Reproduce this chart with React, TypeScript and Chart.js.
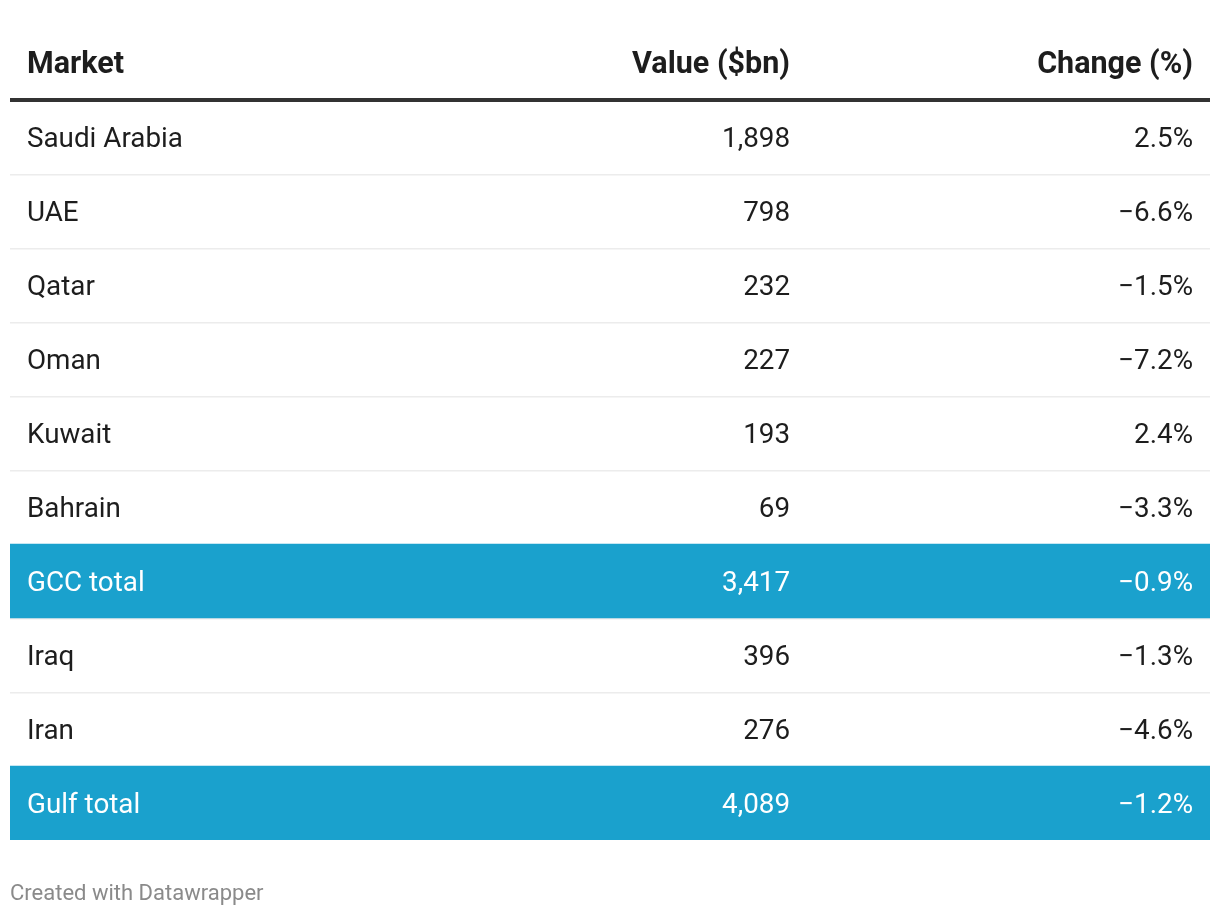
import React, { useEffect, useRef } from "react";
import { Chart, registerables } from "chart.js";

Chart.register(...registerables);

const headers = ["Market", "Value ($bn)", "Change (%)"];
const markets = ["Saudi Arabia", "UAE", "Qatar", "Oman", "Kuwait", "Bahrain", "GCC total", "Iraq", "Iran", "Gulf total"];
const values = [1898, 798, 232, 227, 193, 69, 3417, 396, 276, 4089];
const changes = [2.5, -6.6, -1.5, -7.2, 2.4, -3.3, -0.9, -1.3, -4.6, -1.2];
const highlighted = [false, false, false, false, false, false, true, false, false, true];
const footer = "Created with Datawrapper";

const W = 1220;
const H = 916;
const X_MAX = 1200;
// column anchors in x-scale units
const COL_MARKET_LEFT = 17;
const COL_VALUE_RIGHT = 780;
const COL_CHANGE_RIGHT = 1183;

const FONT = "Roboto, 'Noto Sans', sans-serif";
const TEXT = "#1d1d1d";
const BLUE = "#1aa1cd";

const fmtValue = (v: number) => v.toLocaleString("en-US");
const fmtChange = (c: number) => (c < 0 ? "\u2212" : "") + Math.abs(c).toFixed(1) + "%";

const tablePlugin = {
  id: "tablePlugin",
  beforeDatasetsDraw(chart: any) {
    const { ctx, chartArea, scales } = chart;
    const y = scales.y;
    ctx.save();
    ctx.fillStyle = "#ececec";
    for (let i = 0; i < markets.length - 1; i++) {
      const c = y.getPixelForValue(i);
      const n = y.getPixelForValue(i + 1);
      const b = Math.round((c + n) / 2);
      ctx.fillRect(chartArea.left, b, chartArea.right - chartArea.left, 1.5);
    }
    ctx.restore();
  },
  afterDatasetsDraw(chart: any) {
    const { ctx, chartArea, scales } = chart;
    const x = scales.x;
    const y = scales.y;
    ctx.save();
    // header
    ctx.fillStyle = TEXT;
    ctx.font = `bold 30.5px ${FONT}`;
    ctx.textBaseline = "middle";
    const hy = 65;
    ctx.textAlign = "left";
    ctx.fillText(headers[0], x.getPixelForValue(COL_MARKET_LEFT), hy);
    ctx.textAlign = "right";
    ctx.fillText(headers[1], x.getPixelForValue(COL_VALUE_RIGHT), hy);
    ctx.fillText(headers[2], x.getPixelForValue(COL_CHANGE_RIGHT), hy);
    // header rule
    ctx.fillStyle = "#333333";
    ctx.fillRect(chartArea.left, chartArea.top - 2, chartArea.right - chartArea.left, 4);
    // rows
    ctx.font = `400 27.8px ${FONT}`;
    for (let i = 0; i < markets.length; i++) {
      const cy = y.getPixelForValue(i) + 3;
      ctx.fillStyle = highlighted[i] ? "#ffffff" : TEXT;
      ctx.textAlign = "left";
      ctx.fillText(markets[i], x.getPixelForValue(COL_MARKET_LEFT), cy);
      ctx.textAlign = "right";
      ctx.fillText(fmtValue(values[i]), x.getPixelForValue(COL_VALUE_RIGHT), cy);
      ctx.fillText(fmtChange(changes[i]), x.getPixelForValue(COL_CHANGE_RIGHT), cy);
    }
    // footer
    ctx.fillStyle = "#8a8a8a";
    ctx.font = `400 22px ${FONT}`;
    ctx.textAlign = "left";
    ctx.fillText(footer, chartArea.left, 894);
    ctx.restore();
  },
};

export default function App() {
  const ref = useRef<HTMLCanvasElement | null>(null);
  useEffect(() => {
    let chart: Chart | null = null;
    let cancelled = false;
    const make = () => {
      if (cancelled || !ref.current) return;
      chart = new Chart(ref.current, {
        type: "bar",
        data: {
          labels: markets,
          datasets: [
            {
              data: highlighted.map((h) => (h ? [0, X_MAX] : null)) as any,
              backgroundColor: BLUE,
              borderWidth: 0,
              borderSkipped: false,
              barPercentage: 1,
              categoryPercentage: 1,
            },
          ],
        },
        options: {
          indexAxis: "y",
          responsive: false,
          animation: false,
          events: [],
          layout: { padding: { top: 100, left: 10, right: 10, bottom: 76 } },
          plugins: { legend: { display: false }, tooltip: { enabled: false } },
          scales: {
            x: { type: "linear", min: 0, max: X_MAX, display: false },
            y: { type: "category", display: false, offset: true },
          },
        },
        plugins: [tablePlugin],
      });
    };
    Promise.all([
      document.fonts.load(`400 24px Roboto`),
      document.fonts.load(`bold 27px Roboto`),
    ]).then(make, make);
    return () => {
      cancelled = true;
      if (chart) chart.destroy();
    };
  }, []);
  return (
    <div style={{ position: "absolute", left: 0, top: 0, width: W, height: H, background: "#fff" }}>
      <canvas ref={ref} width={W} height={H} style={{ display: "block" }} />
    </div>
  );
}
